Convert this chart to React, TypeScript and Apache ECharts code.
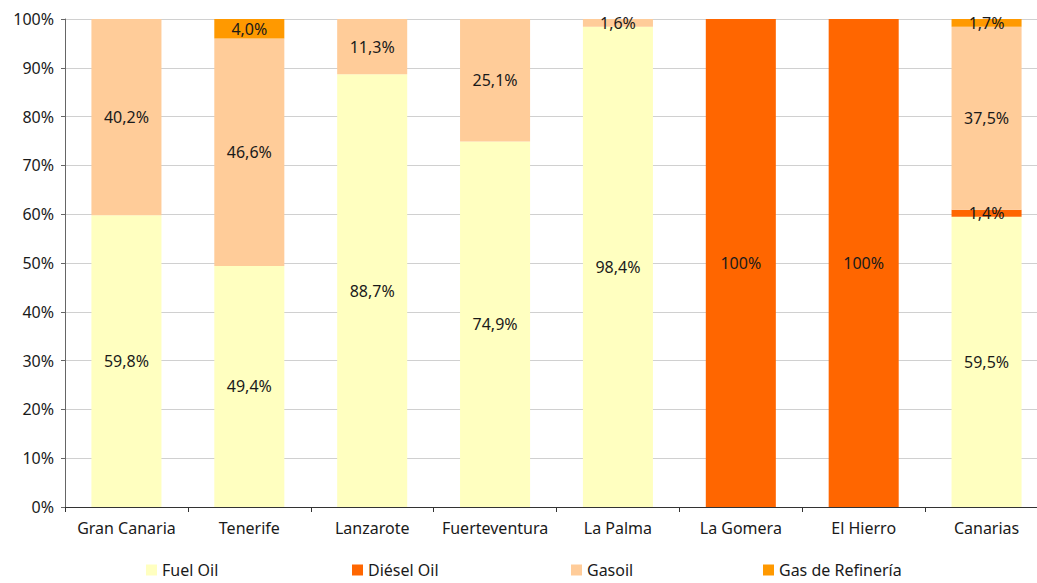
import React, { useEffect, useRef } from "react";
import * as echarts from "echarts";

const categories = ["Gran Canaria", "Tenerife", "Lanzarote", "Fuerteventura", "La Palma", "La Gomera", "El Hierro", "Canarias"];
const fuelOil = [59.8, 49.4, 88.7, 74.9, 98.4, 0, 0, 59.5];
const dieselOil = [0, 0, 0, 0, 0, 100, 100, 1.4];
const gasoil = [40.2, 46.6, 11.3, 25.1, 1.6, 0, 0, 37.5];
const gasRefineria = [0, 4.0, 0, 0, 0, 0, 0, 1.7];
const yTicks = [0, 10, 20, 30, 40, 50, 60, 70, 80, 90, 100];

const seriesDefs = [
  { name: "Fuel Oil", data: fuelOil, color: "#FFFFC0" },
  { name: "Diésel Oil", data: dieselOil, color: "#FF6600" },
  { name: "Gasoil", data: gasoil, color: "#FFCC99" },
  { name: "Gas de Refinería", data: gasRefineria, color: "#FF9900" },
];

const legendLefts = [146, 352, 571, 763];
const FONT = "Noto Sans";
const FS = 16;

function fmt(v: number) {
  if (v === 100) return "100%";
  return v.toFixed(1).replace(".", ",") + "%";
}

export default function App() {
  const ref = useRef<HTMLDivElement>(null);
  useEffect(() => {
    if (!ref.current) return;
    const chart = echarts.init(ref.current, undefined, { renderer: "svg" });
    chart.setOption({
      animation: false,
      backgroundColor: "#ffffff",
      textStyle: { fontFamily: FONT },
      grid: { left: 65, top: 19, width: 983, height: 488, containLabel: false },
      legend: seriesDefs.map((s, i) => ({
        data: [s.name],
        left: legendLefts[i],
        top: 561,
        itemWidth: 11,
        itemHeight: 11,
        itemGap: 5,
        icon: "rect",
        padding: 0,
        selectedMode: false,
        textStyle: { fontFamily: FONT, fontSize: FS, lineHeight: 18, color: "#1a1a1a" },
      })),
      xAxis: {
        type: "category",
        data: categories,
        boundaryGap: true,
        axisLine: { show: true, lineStyle: { color: "#333333", width: 1 } },
        axisTick: { show: true, length: 5, alignWithLabel: false, lineStyle: { color: "#333333" } },
        axisLabel: { fontFamily: FONT, fontSize: FS, color: "#1a1a1a", margin: 13, interval: 0 },
        splitLine: { show: false },
      },
      yAxis: {
        type: "value",
        min: 0,
        max: 100,
        interval: 10,
        axisLine: { show: true, lineStyle: { color: "#666666", width: 1 } },
        axisTick: { show: true, length: 4, lineStyle: { color: "#666666" } },
        axisLabel: {
          fontFamily: FONT,
          fontSize: FS,
          color: "#1a1a1a",
          margin: 11,
          formatter: (v: number) => (yTicks.includes(v) ? v + "%" : ""),
        },
        splitLine: { show: true, lineStyle: { color: "#d0d0d0", width: 1 } },
      },
      series: seriesDefs.map((s) => ({
        name: s.name,
        type: "bar",
        stack: "total",
        barWidth: "57%",
        data: s.data,
        itemStyle: { color: s.color },
        label: {
          show: true,
          position: "inside",
          fontFamily: FONT,
          fontSize: FS,
          color: "#1a1a1a",
          formatter: (p: any) => (p.value > 0 ? fmt(p.value) : ""),
        },
      })),
    });
    return () => chart.dispose();
  }, []);
  return (
    <div style={{ position: "fixed", left: 0, top: 0, width: 1037, height: 583, overflow: "hidden", background: "#fff" }}>
      <div ref={ref} style={{ width: 1050, height: 583 }} />
    </div>
  );
}
